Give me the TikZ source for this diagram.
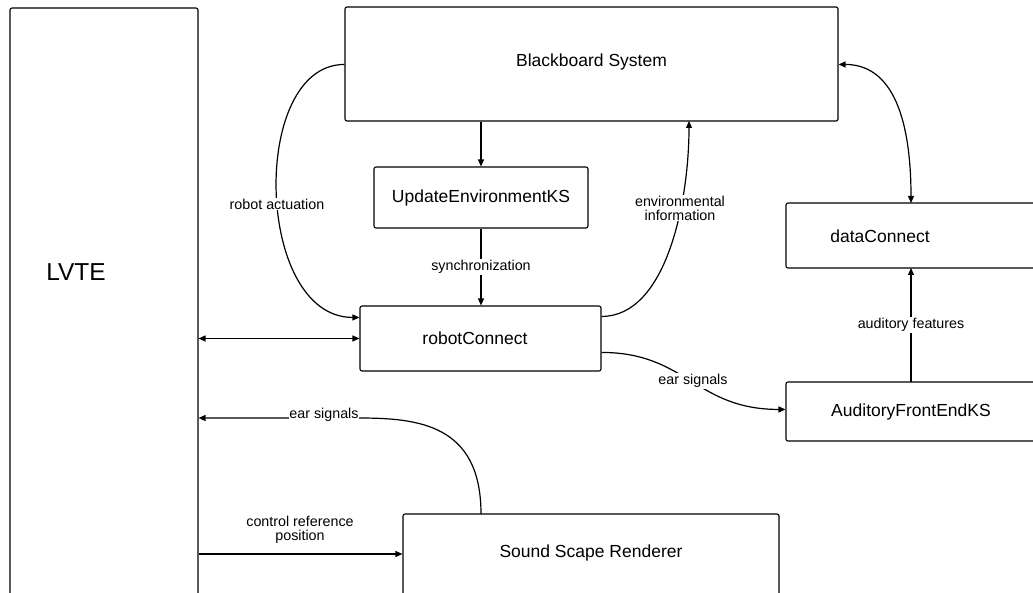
\documentclass[tikz,border=0pt]{standalone}
\usepackage{fontspec}
\setmainfont{Liberation Sans}
\usetikzlibrary{arrows.meta,calc}
\begin{document}
\begin{tikzpicture}[x=1pt,y=-1pt,
  box/.style={draw,line width=1.1pt,rounded corners=2pt,inner sep=0pt},
  boxtext/.style={font=\fontsize{17.5}{20}\selectfont,inner sep=0pt},
  lbl/.style={font=\fontsize{14.3}{16}\selectfont,inner sep=1pt,align=center},
  conn/.style={line width=1.2pt,-{Triangle[length=7pt,width=6pt]}},
  dconn/.style={line width=1.2pt,{Triangle[length=7pt,width=6pt]}-{Triangle[length=7pt,width=6pt]}}]
\clip (0,0) rectangle (1033,593);
\fill[white] (0,0) rectangle (1033,593);
% boxes
\node[box,minimum width=188pt,minimum height=620pt] (lvte) at (104,318) {};
\node[font=\fontsize{24.5}{28}\selectfont,inner sep=0pt] (lvtetext) at (76,272) {LVTE};
\node[box,minimum width=493pt,minimum height=114pt] (bb) at (591.5,64) {};
\node[boxtext] (bbtext) at (591.5,62) {Blackboard System};
\node[box,minimum width=214pt,minimum height=61pt] (uek) at (481,197.5) {};
\node[boxtext] at (481,197.5) {UpdateEnvironmentKS};
\node[box,minimum width=241pt,minimum height=65pt] (rc) at (480.5,338.5) {};
\node[boxtext] at (475,338.5) {robotConnect};
\node[box,minimum width=270pt,minimum height=65pt] (dc) at (921,235.5) {};
\node[boxtext] at (880,236) {dataConnect};
\node[box,minimum width=270pt,minimum height=59pt] (afe) at (921,411.5) {};
\node[boxtext] at (911,412) {AuditoryFrontEndKS};
\node[box,minimum width=376pt,minimum height=110pt] (ssr) at (591,569) {};
\node[boxtext] at (591,553) {Sound Scape Renderer};
% coordinates
\coordinate (bbenv) at (689,121);
\coordinate (dctop) at (911,203);
\coordinate (dcbot) at (911,268);
\coordinate (afetop) at (911,382);
\coordinate (ssrtop) at (481,514);
% connectors
\draw[conn] (uek.north |- bb.south) -- (uek.north);
\draw[conn] (uek.south) -- (rc.north -| uek.south)
  node[midway,lbl,fill=white] {synchronization};
\draw[conn] ($(bb.north west)+(0,58)$) .. controls +(-95,0) and +(-105,0) .. ($(rc.north west)+(0,12)$);
\node[lbl,fill=white] at (277,204) {robot actuation};
\draw[conn] ($(rc.north east)+(0,11)$) .. controls +(65,0) and +(0,80) .. (bbenv);
\node[lbl,fill=white] at (680,208) {environmental\\[-2pt]information};
\draw[dconn] (lvte.east |- rc.west) -- (rc.west);
\draw[conn] ($(rc.north east)+(0,47)$) .. controls +(85,0) and +(-90,0) .. ($(afe.north west)+(0,28)$);
\node[lbl,fill=white] at (693,381) {ear signals};
\draw[dconn] ($(bb.north east)+(0,58)$) .. controls +(60,0) and +(0,-70) .. (dctop);
\draw[conn] (afetop) -- (dcbot) node[midway,lbl,fill=white] {auditory features};
\draw[conn] (ssrtop) .. controls +(0,-90) and +(60,0) .. (358,418) -- (lvte.east |- 0,418);
\node[lbl,fill=white,inner sep=0pt] at (324,415) {ear signals};
\draw[conn] (lvte.east |- 0,554) -- (ssr.west |- 0,554);
\node[lbl] at (300,530) {control reference\\[-2pt]position};
\end{tikzpicture}
\end{document}
